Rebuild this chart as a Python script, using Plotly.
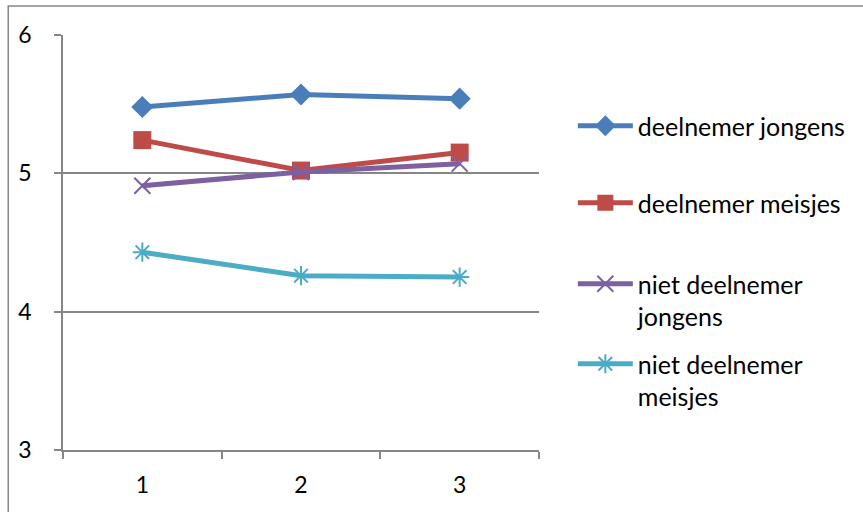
import plotly.graph_objects as go

# Metingen op drie momenten
metingen = ["1", "2", "3"]

deelnemer_jongens = [5.48, 5.57, 5.54]
deelnemer_meisjes = [5.24, 5.02, 5.15]
niet_deelnemer_jongens = [4.91, 5.01, 5.07]
niet_deelnemer_meisjes = [4.43, 4.26, 4.25]

reeksen = [
    ("deelnemer jongens", deelnemer_jongens, "#4A7EBB",
     dict(symbol="diamond", size=17, color="#4A7EBB"), "legend"),
    ("deelnemer meisjes", deelnemer_meisjes, "#BE4B48",
     dict(symbol="square", size=18, color="#BE4B48"), "legend2"),
    ("niet deelnemer<br>jongens", niet_deelnemer_jongens, "#7D60A0",
     dict(symbol="x-thin-open", size=16, color="#7D60A0",
          line=dict(width=2, color="#7D60A0")), "legend3"),
    ("niet deelnemer<br>meisjes", niet_deelnemer_meisjes, "#4BACC6",
     dict(symbol="asterisk-open", size=16, color="#4BACC6",
          line=dict(width=2, color="#4BACC6")), "legend4"),
]

fig = go.Figure()
for naam, waarden, kleur, marker, leg in reeksen:
    fig.add_trace(go.Scatter(
        x=metingen, y=waarden, name=naam, mode="lines+markers",
        line=dict(color=kleur, width=5), marker=marker, legend=leg,
    ))

W, H = 863, 512
L, R, T, B = 63, 863 - 541, 35, 512 - 450
pw, ph = W - L - R, H - T - B

def px_x(x):
    return (x - L) / pw

def px_y(y):
    return (H - B - y) / ph

font = dict(family="Lato, 'Open Sans', sans-serif", size=25, color="#000000")

def legenda(y_top):
    return dict(
        x=px_x(575), xanchor="left", y=px_y(y_top), yanchor="top",
        font=font, bgcolor="rgba(0,0,0,0)", itemwidth=55,
        valign="top", tracegroupgap=0,
    )

grijs = "#868686"

fig.update_layout(
    width=W, height=H,
    margin=dict(l=L, r=R, t=T, b=B, pad=0),
    paper_bgcolor="white", plot_bgcolor="white",
    font=font,
    showlegend=True,
    legend=legenda(103),
    legend2=legenda(180),
    legend3=legenda(261),
    legend4=legenda(341),
    xaxis=dict(
        type="category", range=[-0.5, 2.5], tickson="boundaries",
        ticks="outside", ticklen=7, tickcolor=grijs, tickwidth=1.5,
        showline=True, linecolor=grijs, linewidth=1.5,
        showgrid=False, zeroline=False, ticklabelstandoff=14,
        tickfont=dict(font, size=23), fixedrange=True,
    ),
    yaxis=dict(
        range=[3, 6], dtick=1, tick0=3,
        ticks="outside", ticklen=7, tickcolor=grijs, tickwidth=1.5,
        showline=True, linecolor=grijs, linewidth=1.5,
        showgrid=True, gridcolor=grijs, gridwidth=1.5, zeroline=False,
        ticklabelstandoff=18, tickfont=dict(font, size=23), fixedrange=True,
    ),
    shapes=[dict(
        type="rect", xref="paper", yref="paper",
        x0=px_x(8), x1=px_x(W + 20), y0=px_y(H + 20), y1=px_y(6),
        line=dict(color=grijs, width=1.5), fillcolor="rgba(0,0,0,0)",
        layer="below",
    )],
)

fig.write_html("out.html")
